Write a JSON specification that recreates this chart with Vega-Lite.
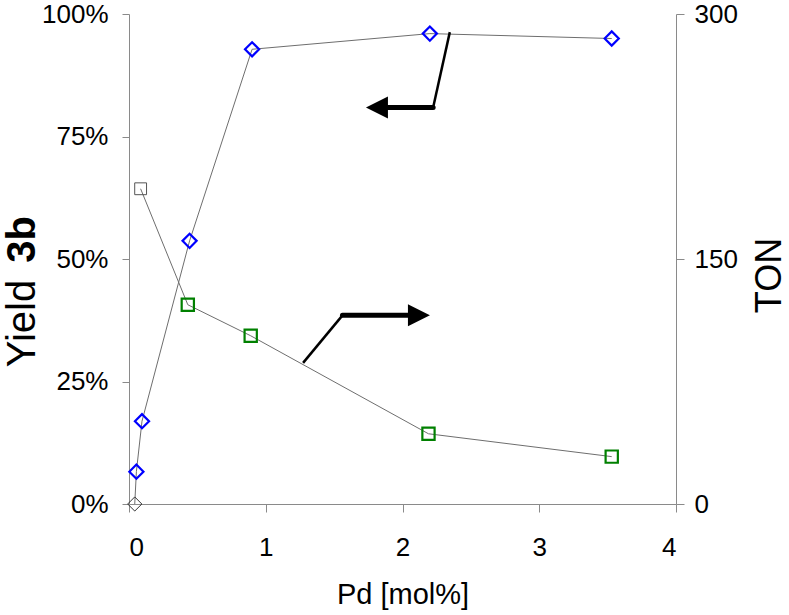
{
  "$schema": "https://vega.github.io/schema/vega-lite/v6.json",
  "width": 547,
  "height": 490,
  "autosize": {"type": "none"},
  "padding": {"left": 129, "top": 14, "right": 113, "bottom": 111},
  "background": "white",
  "config": {
    "font": "Liberation Sans",
    "view": {"stroke": null},
    "axis": {
      "grid": false,
      "domainColor": "#8a8a8a",
      "tickColor": "#8a8a8a",
      "labelColor": "#000000",
      "titleColor": "#000000",
      "labelFontSize": 26,
      "titleFontSize": 36,
      "titleFontWeight": "normal",
      "labelFont": "Liberation Sans",
      "titleFont": "Liberation Sans"
    }
  },
  "datasets": {
    "yield": [
      {"x": 0.042, "yield": 0.0},
      {"x": 0.054, "yield": 0.066},
      {"x": 0.095, "yield": 0.169},
      {"x": 0.443, "yield": 0.537},
      {"x": 0.9, "yield": 0.928},
      {"x": 2.2, "yield": 0.96},
      {"x": 3.53, "yield": 0.95}
    ],
    "ton": [
      {"x": 0.085, "ton": 193},
      {"x": 0.43, "ton": 122},
      {"x": 0.89, "ton": 103},
      {"x": 2.19, "ton": 43},
      {"x": 3.53, "ton": 29}
    ],
    "slant": [
      {"seg": "up", "x": 2.346, "y": 0.963},
      {"seg": "up", "x": 2.224, "y": 0.809},
      {"seg": "down", "x": 1.273, "y": 0.288},
      {"seg": "down", "x": 1.561, "y": 0.385}
    ],
    "shaft": [
      {"seg": "up", "x": 2.224, "y": 0.809},
      {"seg": "up", "x": 1.86, "y": 0.809},
      {"seg": "down", "x": 1.561, "y": 0.385},
      {"seg": "down", "x": 2.07, "y": 0.385}
    ],
    "heads": [
      {"dir": "left", "x": 1.813, "y": 0.809},
      {"dir": "right", "x": 2.12, "y": 0.385}
    ]
  },
  "encoding": {
    "x": {
      "field": "x",
      "type": "quantitative",
      "scale": {"domain": [0, 4], "nice": false, "zero": false},
      "axis": {
        "values": [0, 1, 2, 3, 4],
        "tickSize": 8,
        "labelPadding": 22,
        "title": "Pd [mol%]",
        "titleFontSize": 29,
        "titlePadding": 20
      }
    }
  },
  "layer": [
    {
      "data": {"name": "yield"},
      "encoding": {
        "y": {
          "field": "yield",
          "type": "quantitative",
          "scale": {"domain": [0, 1], "nice": false},
          "axis": {
            "orient": "left",
            "values": [0, 0.25, 0.5, 0.75, 1],
            "format": ".0%",
            "tickSize": 7,
            "labelPadding": 14,
            "title": "Yield",
            "titleFontSize": 40,
            "titleAngle": 270,
            "titleAlign": "center",
            "titleBaseline": "alphabetic",
            "titleX": -95,
            "titleY": 309
          }
        }
      },
      "layer": [
        {"mark": {"type": "line", "color": "#6e6e6e", "strokeWidth": 1}},
        {
          "transform": [{"filter": "datum.yield > 0"}],
          "mark": {"type": "point", "shape": "diamond", "filled": false, "color": "#0000ff", "strokeWidth": 2.2, "size": 200, "opacity": 1}
        },
        {
          "transform": [{"filter": "datum.yield == 0"}],
          "mark": {"type": "point", "shape": "diamond", "filled": false, "color": "#333333", "strokeWidth": 1, "size": 200, "opacity": 1}
        }
      ]
    },
    {
      "data": {"name": "ton"},
      "encoding": {
        "y": {
          "field": "ton",
          "type": "quantitative",
          "scale": {"domain": [0, 300], "nice": false},
          "axis": {
            "orient": "right",
            "values": [0, 150, 300],
            "tickSize": 8,
            "labelPadding": 10,
            "title": "TON",
            "titleAngle": 270,
            "titleAlign": "center",
            "titleBaseline": "alphabetic",
            "titleX": 104,
            "titleY": 261
          }
        }
      },
      "layer": [
        {"mark": {"type": "line", "color": "#6e6e6e", "strokeWidth": 1}},
        {
          "transform": [{"filter": "datum.x > 0.2"}],
          "mark": {"type": "square", "filled": false, "color": "#008000", "strokeWidth": 2.2, "size": 150, "opacity": 1}
        },
        {
          "transform": [{"filter": "datum.x < 0.2"}],
          "mark": {"type": "square", "filled": false, "color": "#555555", "strokeWidth": 1, "size": 140, "opacity": 1}
        }
      ]
    },
    {
      "encoding": {
        "y": {
          "field": "y",
          "type": "quantitative",
          "scale": {"domain": [0, 1], "nice": false},
          "axis": {
            "orient": "left",
            "labels": false,
            "ticks": false,
            "domain": false,
            "title": "3b",
            "titleFontSize": 40,
            "titleFontWeight": "bold",
            "titleAngle": 270,
            "titleAlign": "center",
            "titleBaseline": "alphabetic",
            "titleX": -95,
            "titleY": 225
          }
        }
      },
      "layer": [
        {
          "data": {"name": "slant"},
          "mark": {"type": "line", "color": "#000000", "strokeWidth": 2.5},
          "encoding": {"detail": {"field": "seg"}}
        },
        {
          "data": {"name": "shaft"},
          "mark": {"type": "line", "color": "#000000", "strokeWidth": 5, "strokeCap": "round"},
          "encoding": {"detail": {"field": "seg"}}
        },
        {
          "data": {"name": "heads"},
          "mark": {"type": "point", "filled": true, "color": "#000000", "size": 484, "opacity": 1},
          "encoding": {
            "shape": {
              "field": "dir",
              "type": "nominal",
              "scale": {"domain": ["left", "right"], "range": ["M1,-1L-1,0L1,1Z", "M-1,-1L1,0L-1,1Z"]},
              "legend": null
            }
          }
        }
      ]
    }
  ],
  "resolve": {"scale": {"y": "independent"}}
}
